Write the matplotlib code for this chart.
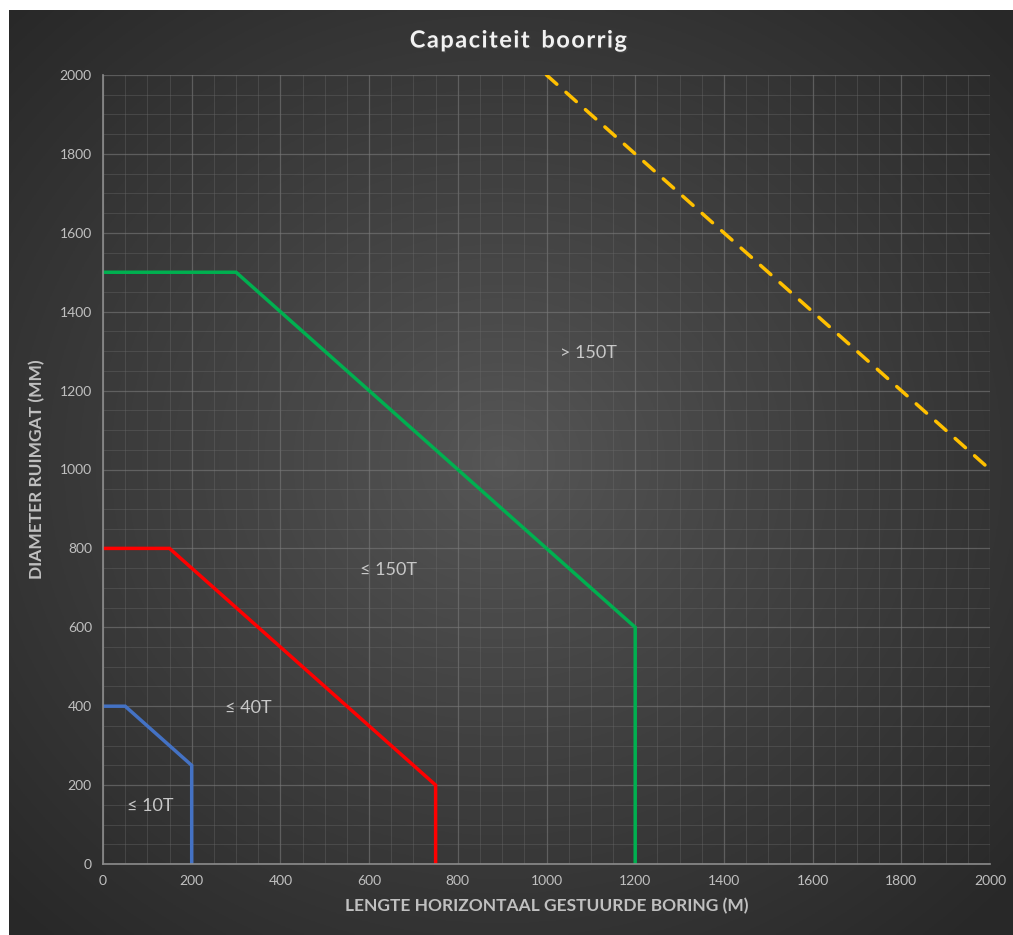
import numpy as np
import matplotlib
matplotlib.use('Agg')
import matplotlib.pyplot as plt
import matplotlib.patheffects as pe

# capacity limits per rig class (length m, diameter mm)
x_10t = [0, 50, 200, 200]
y_10t = [400, 400, 250, 0]
x_40t = [0, 150, 750, 750]
y_40t = [800, 800, 200, 0]
x_150t = [0, 300, 1200, 1200]
y_150t = [1500, 1500, 600, 0]
x_gt150 = [1000, 2000]
y_gt150 = [2000, 1000]

labels = ['≤ 10T', '≤ 40T', '≤ 150T', '> 150T']
label_x = [106, 327, 643, 1094]
label_y = [147, 395, 745, 1295]

plt.rcParams['font.family'] = ['Lato', 'DejaVu Sans']

fig = plt.figure(figsize=(10.13, 9.35), dpi=100)
fig.patch.set_facecolor('white')

# dark radial background
bg = fig.add_axes([9/1013, 0, 1 - 9/1013, 1 - 10/935])
yy, xx = np.mgrid[0:400, 0:440]
cx, cy = 215, 195
r = np.sqrt(((xx - cx) / 440) ** 2 + ((yy - cy) / 400) ** 2)
val = 0.34 - 0.18 * np.clip(r / 0.68, 0, 1) ** 0.9
bg.imshow(np.dstack([val, val, val]), aspect='auto', extent=[0, 1, 0, 1])
bg.axis('off')

ax = fig.add_axes([103/1013, 1 - 864/935, (990 - 103)/1013, (864 - 75)/935])
ax.patch.set_alpha(0)

ax.plot(x_10t, y_10t, color='#4472c4', lw=2.5, solid_joinstyle='miter')
ax.plot(x_40t, y_40t, color='#ff0000', lw=2.5, solid_joinstyle='miter')
ax.plot(x_150t, y_150t, color='#00b050', lw=2.5, solid_joinstyle='miter')
ax.plot(x_gt150, y_gt150, color='#ffc000', lw=2.5, dashes=(4, 3.5),
        dash_capstyle='round')

for t, lx, ly in zip(labels, label_x, label_y):
    ax.text(lx, ly, t, color='#c8c8c8', fontsize=13, ha='center', va='center',
            family=['Lato', 'DejaVu Sans'])

ax.set_xlim(0, 2000)
ax.set_ylim(0, 2000)
ax.set_xticks(np.arange(0, 2001, 200))
ax.set_yticks(np.arange(0, 2001, 200))
ax.set_xticks(np.arange(0, 2001, 50), minor=True)
ax.set_yticks(np.arange(0, 2001, 50), minor=True)
ax.grid(which='major', color='#7a7a7a', lw=0.9, alpha=0.6)
ax.grid(which='minor', color='#6a6a6a', lw=0.6, alpha=0.45)
ax.set_axisbelow(True)
ax.tick_params(which='both', length=0, colors='#c0c0c0', labelsize=10, pad=8)

for s in ['top', 'right']:
    ax.spines[s].set_visible(False)
for s in ['left', 'bottom']:
    ax.spines[s].set_color('#8c8c8c')
    ax.spines[s].set_linewidth(1.2)

ax.set_xlabel('LENGTE HORIZONTAAL GESTUURDE BORING (M)', color='#c0c0c0',
              fontsize=12.5, fontweight='bold', labelpad=8)
ax.set_ylabel('DIAMETER RUIMGAT (MM)', color='#c0c0c0',
              fontsize=12.5, fontweight='bold', labelpad=10)

title = '\u200a'.join('Capaciteit') + '\u2002' + '\u200a'.join('boorrig')
fig.text(0.512, 1 - 40/935, title, color='#f2f2f2',
         fontsize=17, fontweight='bold', ha='center', va='center',
         path_effects=[pe.withSimplePatchShadow(offset=(1, -1), alpha=0.6)])

fig.savefig('out.png', dpi=100)
